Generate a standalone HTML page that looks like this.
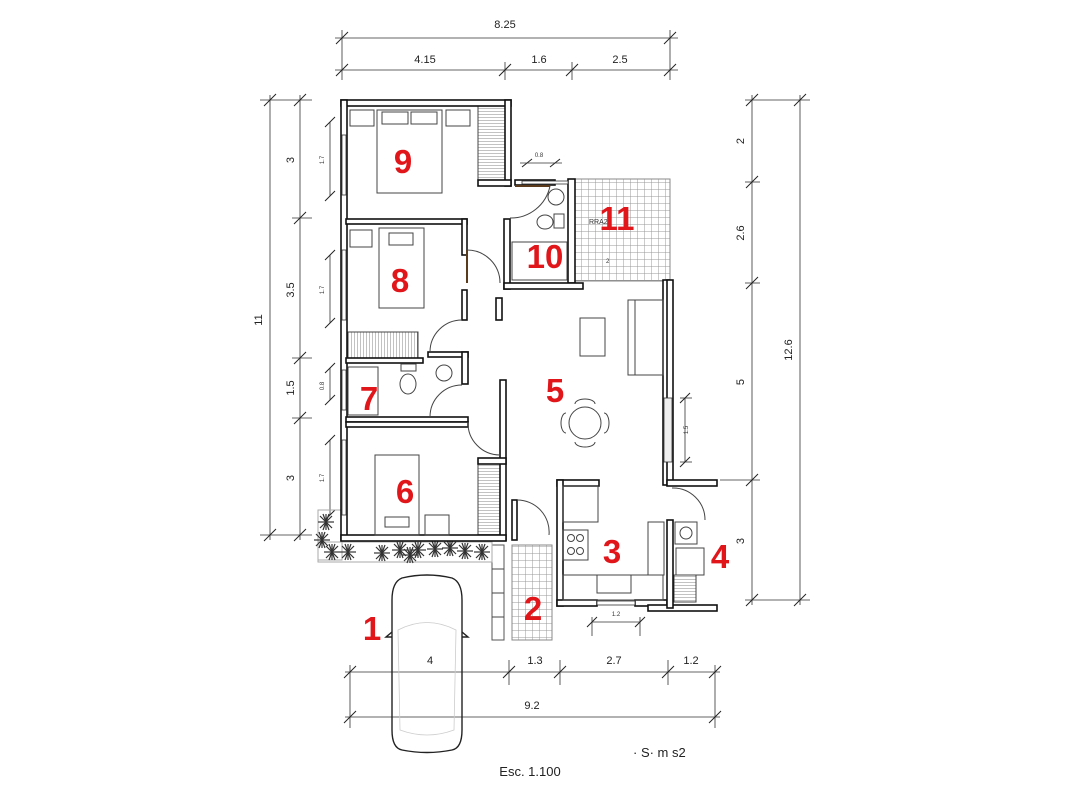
<!DOCTYPE html>
<html><head><meta charset="utf-8"><style>
html,body{margin:0;padding:0;background:#fff}
svg{display:block}
text{font-family:"Liberation Sans",sans-serif}
.w{fill:#fff;stroke:#111;stroke-width:1.6}
.d{stroke:#333;stroke-width:0.8;fill:none}
.t{stroke:#222;stroke-width:1}
.f{fill:none;stroke:#444;stroke-width:1}
.n{fill:#e0161b;font-weight:bold;font-size:33px}
.l{font-size:11px;fill:#222}
.s{font-size:6px;fill:#333}
</style></head><body>
<svg width="1065" height="800" viewBox="0 0 1065 800" xmlns="http://www.w3.org/2000/svg">
<defs>
<pattern id="g" width="7" height="7" patternUnits="userSpaceOnUse"><rect width="7" height="7" fill="#fff"/><path d="M0 0H7M0 0V7" stroke="#999" stroke-width="1"/></pattern>
<pattern id="h" width="4" height="3" patternUnits="userSpaceOnUse"><rect width="4" height="3" fill="#fff"/><path d="M0 0H4" stroke="#666" stroke-width="0.8"/></pattern>
<pattern id="v" width="3" height="4" patternUnits="userSpaceOnUse"><rect width="3" height="4" fill="#fff"/><path d="M0 0V4" stroke="#666" stroke-width="0.8"/></pattern>
<g id="pl" stroke="#333" stroke-width="1.2"><line x1="-8" y1="0" x2="8" y2="0"/><line x1="0" y1="-8" x2="0" y2="8"/><line x1="-6" y1="-6" x2="6" y2="6"/><line x1="-6" y1="6" x2="6" y2="-6"/><line x1="-3" y1="-8" x2="3" y2="8"/><line x1="3" y1="-8" x2="-3" y2="8"/></g>
</defs>

<!-- top dimensions -->
<g class="d">
<line x1="335" y1="38" x2="678" y2="38"/>
<line x1="335" y1="70" x2="678" y2="70"/>
<line x1="342" y1="30" x2="342" y2="80"/><line x1="670" y1="30" x2="670" y2="80"/>
<line x1="505" y1="62" x2="505" y2="80"/><line x1="572" y1="62" x2="572" y2="80"/>
</g>
<g class="t">
<line x1="336" y1="44" x2="348" y2="32"/><line x1="664" y1="44" x2="676" y2="32"/>
<line x1="336" y1="76" x2="348" y2="64"/><line x1="499" y1="76" x2="511" y2="64"/><line x1="566" y1="76" x2="578" y2="64"/><line x1="664" y1="76" x2="676" y2="64"/>
</g>
<text class="l" x="505" y="28" text-anchor="middle">8.25</text>
<text class="l" x="425" y="63" text-anchor="middle">4.15</text>
<text class="l" x="539" y="63" text-anchor="middle">1.6</text>
<text class="l" x="620" y="63" text-anchor="middle">2.5</text>

<!-- left dimensions -->
<g class="d">
<line x1="270" y1="95" x2="270" y2="540"/><line x1="300" y1="95" x2="300" y2="540"/>
<line x1="260" y1="100" x2="312" y2="100"/><line x1="260" y1="535" x2="312" y2="535"/>
<line x1="292" y1="218" x2="312" y2="218"/><line x1="292" y1="358" x2="312" y2="358"/><line x1="292" y1="418" x2="312" y2="418"/>
<line x1="330" y1="122" x2="330" y2="196"/><line x1="330" y1="255" x2="330" y2="323"/><line x1="330" y1="368" x2="330" y2="400"/><line x1="330" y1="440" x2="330" y2="515"/>
</g>
<g class="t">
<line x1="264" y1="106" x2="276" y2="94"/><line x1="264" y1="541" x2="276" y2="529"/>
<line x1="294" y1="106" x2="306" y2="94"/><line x1="294" y1="224" x2="306" y2="212"/><line x1="294" y1="364" x2="306" y2="352"/><line x1="294" y1="424" x2="306" y2="412"/><line x1="294" y1="541" x2="306" y2="529"/>
<line x1="325" y1="127" x2="335" y2="117"/><line x1="325" y1="201" x2="335" y2="191"/><line x1="325" y1="260" x2="335" y2="250"/><line x1="325" y1="328" x2="335" y2="318"/><line x1="325" y1="373" x2="335" y2="363"/><line x1="325" y1="405" x2="335" y2="395"/><line x1="325" y1="445" x2="335" y2="435"/><line x1="325" y1="520" x2="335" y2="510"/>
</g>
<text class="l" transform="translate(262,320) rotate(-90)" text-anchor="middle">11</text>
<text class="l" transform="translate(294,160) rotate(-90)" text-anchor="middle">3</text>
<text class="l" transform="translate(294,290) rotate(-90)" text-anchor="middle">3.5</text>
<text class="l" transform="translate(294,388) rotate(-90)" text-anchor="middle">1.5</text>
<text class="l" transform="translate(294,478) rotate(-90)" text-anchor="middle">3</text>
<text class="s" transform="translate(324,160) rotate(-90)" text-anchor="middle">1.7</text>
<text class="s" transform="translate(324,290) rotate(-90)" text-anchor="middle">1.7</text>
<text class="s" transform="translate(324,386) rotate(-90)" text-anchor="middle">0.8</text>
<text class="s" transform="translate(324,478) rotate(-90)" text-anchor="middle">1.7</text>

<!-- right dimensions -->
<g class="d">
<line x1="752" y1="95" x2="752" y2="605"/><line x1="800" y1="95" x2="800" y2="605"/>
<line x1="745" y1="100" x2="810" y2="100"/><line x1="745" y1="600" x2="810" y2="600"/>
<line x1="745" y1="182" x2="760" y2="182"/><line x1="745" y1="283" x2="760" y2="283"/><line x1="720" y1="480" x2="760" y2="480"/>
<line x1="685" y1="398" x2="685" y2="462"/><line x1="680" y1="398" x2="692" y2="398"/><line x1="680" y1="462" x2="692" y2="462"/>
</g>
<g class="t">
<line x1="746" y1="106" x2="758" y2="94"/><line x1="746" y1="188" x2="758" y2="176"/><line x1="746" y1="289" x2="758" y2="277"/><line x1="746" y1="486" x2="758" y2="474"/><line x1="746" y1="606" x2="758" y2="594"/>
<line x1="794" y1="106" x2="806" y2="94"/><line x1="794" y1="606" x2="806" y2="594"/>
<line x1="680" y1="403" x2="690" y2="393"/><line x1="680" y1="467" x2="690" y2="457"/>
</g>
<text class="l" transform="translate(744,141) rotate(-90)" text-anchor="middle">2</text>
<text class="l" transform="translate(744,233) rotate(-90)" text-anchor="middle">2.6</text>
<text class="l" transform="translate(744,382) rotate(-90)" text-anchor="middle">5</text>
<text class="l" transform="translate(744,541) rotate(-90)" text-anchor="middle">3</text>
<text class="l" transform="translate(792,350) rotate(-90)" text-anchor="middle">12.6</text>
<text class="s" transform="translate(688,430) rotate(-90)" text-anchor="middle">1.5</text>

<!-- bottom dimensions -->
<g class="d">
<line x1="345" y1="672" x2="720" y2="672"/><line x1="345" y1="717" x2="720" y2="717"/>
<line x1="350" y1="665" x2="350" y2="728"/><line x1="715" y1="665" x2="715" y2="728"/>
<line x1="509" y1="660" x2="509" y2="685"/><line x1="560" y1="660" x2="560" y2="685"/><line x1="668" y1="660" x2="668" y2="685"/>
<line x1="592" y1="622" x2="640" y2="622"/><line x1="592" y1="617" x2="592" y2="636"/><line x1="640" y1="617" x2="640" y2="636"/>
</g>
<g class="t">
<line x1="344" y1="678" x2="356" y2="666"/><line x1="503" y1="678" x2="515" y2="666"/><line x1="554" y1="678" x2="566" y2="666"/><line x1="662" y1="678" x2="674" y2="666"/><line x1="709" y1="678" x2="721" y2="666"/>
<line x1="344" y1="723" x2="356" y2="711"/><line x1="709" y1="723" x2="721" y2="711"/>
<line x1="587" y1="627" x2="597" y2="617"/><line x1="635" y1="627" x2="645" y2="617"/>
</g>
<text class="l" x="430" y="664" text-anchor="middle">4</text>
<text class="l" x="535" y="664" text-anchor="middle">1.3</text>
<text class="l" x="614" y="664" text-anchor="middle">2.7</text>
<text class="l" x="691" y="664" text-anchor="middle">1.2</text>
<text class="l" x="532" y="709" text-anchor="middle">9.2</text>
<text class="s" x="616" y="616" text-anchor="middle">1.2</text>
<text class="s" x="539" y="157" text-anchor="middle">0.8</text>
<g class="t"><line x1="522" y1="167" x2="532" y2="159"/><line x1="550" y1="167" x2="560" y2="159"/></g>
<line class="d" x1="520" y1="163" x2="562" y2="163"/>

<!-- terrace 11 -->
<rect x="575" y="179" width="95" height="102" fill="url(#g)" stroke="#888"/>
<!-- patio 2 -->
<rect x="512" y="545" width="40" height="95" fill="url(#g)" stroke="#888"/>
<rect x="492" y="545" width="12" height="95" fill="#fff" stroke="#555"/>
<g class="f"><line x1="492" y1="569" x2="504" y2="569"/><line x1="492" y1="593" x2="504" y2="593"/><line x1="492" y1="617" x2="504" y2="617"/></g>

<!-- plants -->
<rect x="318" y="510" width="24" height="50" fill="none" stroke="#aaa"/>
<rect x="318" y="542" width="174" height="20" fill="none" stroke="#aaa"/>
<use href="#pl" x="326" y="522"/><use href="#pl" x="322" y="540"/><use href="#pl" x="332" y="552"/><use href="#pl" x="348" y="552"/><use href="#pl" x="382" y="553"/><use href="#pl" x="400" y="550"/><use href="#pl" x="418" y="550"/><use href="#pl" x="435" y="549"/><use href="#pl" x="450" y="548"/><use href="#pl" x="465" y="551"/><use href="#pl" x="482" y="552"/><use href="#pl" x="410" y="555"/>

<!-- wardrobes -->
<rect x="478" y="106" width="27" height="74" fill="url(#h)" stroke="#444"/>
<rect x="478" y="462" width="27" height="73" fill="url(#h)" stroke="#444"/>
<rect x="348" y="332" width="70" height="26" fill="url(#v)" stroke="#444"/>
<rect x="674" y="575" width="22" height="27" fill="url(#h)" stroke="#444"/>

<!-- walls -->
<g class="w">
<rect x="341" y="100" width="170" height="6"/>
<rect x="341" y="100" width="6" height="440"/>
<rect x="505" y="100" width="6" height="86"/>
<rect x="478" y="180" width="33" height="6"/>
<rect x="346" y="219" width="121" height="5"/>
<rect x="462" y="219" width="5" height="36"/>
<rect x="462" y="290" width="5" height="30"/>
<rect x="346" y="358" width="77" height="5"/>
<rect x="428" y="352" width="40" height="5"/>
<rect x="462" y="352" width="6" height="32"/>
<rect x="346" y="417" width="122" height="5"/>
<rect x="346" y="422" width="122" height="5"/>
<rect x="500" y="380" width="6" height="160"/>
<rect x="478" y="458" width="28" height="6"/>
<rect x="341" y="535" width="165" height="6"/>
<rect x="515" y="180" width="40" height="5"/>
<rect x="568" y="179" width="7" height="104"/>
<rect x="504" y="219" width="6" height="70"/>
<rect x="504" y="283" width="79" height="6"/>
<rect x="496" y="298" width="6" height="22"/>
<rect x="663" y="280" width="6" height="205"/>
<rect x="667" y="280" width="6" height="205"/>
<rect x="667" y="480" width="50" height="6"/>
<rect x="557" y="480" width="42" height="6"/>
<rect x="557" y="480" width="6" height="126"/>
<rect x="557" y="600" width="40" height="6"/>
<rect x="635" y="600" width="32" height="6"/>
<rect x="648" y="605" width="69" height="6"/>
<rect x="667" y="520" width="6" height="88"/>
<rect x="512" y="500" width="5" height="40"/>
</g>
<!-- windows -->
<g fill="#fff" stroke="#333" stroke-width="0.8">
<rect x="342" y="135" width="4" height="60"/><rect x="342" y="250" width="4" height="70"/><rect x="342" y="370" width="4" height="40"/><rect x="342" y="440" width="4" height="75"/>
<rect x="664" y="398" width="8" height="64" fill="#eee"/>
<rect x="597" y="601" width="38" height="4"/>
<rect x="522" y="181" width="46" height="3"/>
</g>
<!-- doors -->
<g class="f">
<path d="M467 250 A33 33 0 0 1 500 283"/><line x1="467" y1="250" x2="467" y2="283" stroke="#5a3a1a" stroke-width="2"/>
<path d="M430 352 A32 32 0 0 1 462 320"/>
<path d="M430 417 A32 32 0 0 1 462 385"/>
<path d="M468 422 A32 32 0 0 0 500 455"/>
<path d="M517 500 A32 32 0 0 1 549 535"/>
<path d="M672 488 A32 32 0 0 1 705 520"/>
<path d="M510 218 A40 40 0 0 0 550 186"/><line x1="515" y1="186" x2="550" y2="186" stroke="#5a3a1a" stroke-width="2"/>
</g>

<!-- furniture -->
<g class="f">
<rect x="350" y="110" width="24" height="16"/><rect x="446" y="110" width="24" height="16"/>
<rect x="377" y="110" width="65" height="83"/><rect x="382" y="112" width="26" height="12"/><rect x="411" y="112" width="26" height="12"/>
<rect x="350" y="230" width="22" height="17"/>
<rect x="379" y="228" width="45" height="80"/><rect x="389" y="233" width="24" height="12"/>
<rect x="348" y="367" width="30" height="48"/>
<ellipse cx="408" cy="384" rx="8" ry="10"/><rect x="401" y="364" width="15" height="7"/>
<circle cx="444" cy="373" r="8"/>
<rect x="375" y="455" width="44" height="80"/><rect x="385" y="517" width="24" height="10"/>
<rect x="425" y="515" width="24" height="20"/>
<rect x="512" y="242" width="55" height="38"/>
<circle cx="556" cy="197" r="8"/><ellipse cx="545" cy="222" rx="8" ry="7"/><rect x="554" y="214" width="10" height="14"/>
<rect x="580" y="318" width="25" height="38"/>
<rect x="628" y="300" width="35" height="75"/><rect x="628" y="300" width="7" height="75"/>
<circle cx="585" cy="423" r="16"/><path d="M566 413 a5 10 0 0 0 0 20M604 413 a5 10 0 0 1 0 20M575 404 a10 5 0 0 1 20 0M575 442 a10 5 0 0 0 20 0"/>
<rect x="563" y="486" width="35" height="36"/>
<rect x="563" y="530" width="25" height="30"/><circle cx="571" cy="538" r="3.5"/><circle cx="580" cy="538" r="3.5"/><circle cx="571" cy="551" r="3.5"/><circle cx="580" cy="551" r="3.5"/>
<rect x="563" y="575" width="100" height="25"/><rect x="597" y="575" width="34" height="18"/>
<rect x="648" y="522" width="16" height="53"/>
<rect x="675" y="522" width="22" height="22"/><circle cx="686" cy="533" r="6"/>
<rect x="676" y="548" width="28" height="27"/>
</g>
<!-- car -->
<g fill="none" stroke="#222" stroke-width="1.4">
<path d="M402 578 Q427 572 452 578 Q462 582 462 600 L462 730 Q462 748 452 750 Q427 755 402 750 Q392 748 392 730 L392 600 Q392 582 402 578 Z"/>
<path d="M392 632 l-6 5 h6M462 632 l6 5 h-6"/>
</g>
<g fill="none" stroke="#ccc" stroke-width="0.8"><path d="M398 630 Q427 615 456 630 L454 730 Q427 740 400 730 Z"/></g>

<!-- room numbers -->
<text class="n" x="403" y="173" text-anchor="middle">9</text>
<text class="n" x="400" y="292" text-anchor="middle">8</text>
<text class="n" x="369" y="410" text-anchor="middle">7</text>
<text class="n" x="405" y="503" text-anchor="middle">6</text>
<text class="n" x="555" y="402" text-anchor="middle">5</text>
<text class="n" x="545" y="268" text-anchor="middle">10</text>
<text class="n" x="617" y="230" text-anchor="middle">11</text>
<text class="n" x="612" y="563" text-anchor="middle">3</text>
<text class="n" x="720" y="568" text-anchor="middle">4</text>
<text class="n" x="533" y="620" text-anchor="middle">2</text>
<text class="n" x="372" y="640" text-anchor="middle">1</text>
<text x="606" y="263" font-size="6" fill="#333">2</text>
<text x="589" y="224" font-size="7" fill="#333">RRA2</text>

<text x="530" y="776" text-anchor="middle" font-size="13" fill="#222">Esc. 1.100</text>
<text x="633" y="757" font-size="13" fill="#222">· S· m s2</text>
</svg>
</body></html>
